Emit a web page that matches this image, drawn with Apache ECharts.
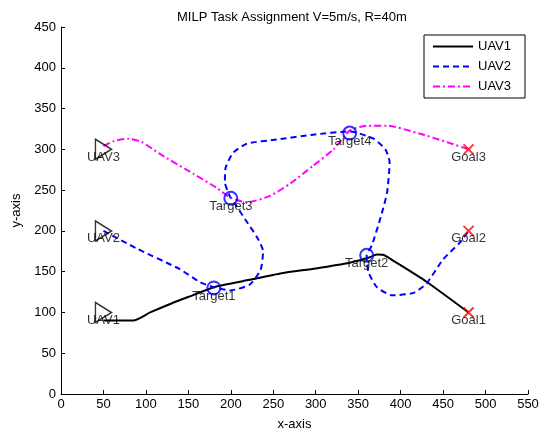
<!DOCTYPE html>
<html lang="en">
<head>
    <meta charset="UTF-8">
    <title>MILP Task Assignment</title>
    <script type="text/javascript" src="https://cdn.jsdelivr.net/npm/echarts@6/dist/echarts.min.js"></script>
    <style>
        html, body { margin: 0; padding: 0; background: #fff; }
    </style>
</head>
<body>
<div id="main" style="width: 547px;height:436px;"></div>

<script type="text/javascript">
    // start points, targets, goals
    var uavNames = ['UAV1', 'UAV2', 'UAV3'];
    var uavStart = [[50, 100], [50, 200], [50, 300]];
    var targetNames = ['Target1', 'Target2', 'Target3', 'Target4'];
    var targetPos = [[180, 130], [360, 170], [200, 240], [340, 320]];
    var goalNames = ['Goal1', 'Goal2', 'Goal3'];
    var goalPos = [[480, 100], [480, 200], [480, 300]];

    // flown paths
    var path1 = [[50, 90], [85, 90], [105, 100], [130, 111], [155, 121], [180, 131], [222, 140],
        [260, 148], [300, 154], [340, 161], [362, 167], [372, 171], [380, 170.5], [392, 163],
        [430, 138], [480, 100]];
    var path2 = [[50, 200], [90, 178], [140, 153], [164, 137], [180, 131], [199, 127], [222, 134],
        [235, 152], [238, 175], [231, 192], [217, 214], [205, 233], [199, 242], [193, 260],
        [194, 278], [203, 296], [219, 307], [254, 312], [297, 318], [340, 322], [368, 313],
        [382, 300], [387, 284], [384, 247], [376, 215], [366, 182], [360, 170], [362, 150],
        [372, 131], [390, 121], [415, 124], [430, 135], [450, 165], [470, 186], [480, 200]];
    var path3 = [[50, 304], [62, 310], [79, 313], [95, 309], [117, 294], [156, 270], [183, 253],
        [199, 241], [219, 235], [246, 243], [270, 258], [297, 280], [321, 300], [340, 323],
        [360, 329], [384, 329], [423, 319], [454, 309], [480, 300]];

    var xTicks = {min: 0, max: 550, interval: 50};
    var yTicks = {min: 0, max: 450, interval: 50};

    var font = 'Liberation Sans, Arial, Helvetica, sans-serif';

    function named(names, pts) {
        return pts.map(function (p, i) { return {name: names[i], value: p}; });
    }

    var markLabel = {
        show: true,
        position: 'inside',
        offset: [0, 8],
        formatter: '{b}',
        color: '#000',
        fontSize: 13,
        fontFamily: font
    };

    var chartDom = document.getElementById('main');
    var myChart = echarts.init(chartDom);

    var option = {
        animation: false,
        backgroundColor: '#fff',
        title: {
            text: 'MILP Task Assignment V=5m/s, R=40m',
            left: 172,
            top: 6,
            textStyle: {fontSize: 13, fontWeight: 'normal', color: '#000', fontFamily: font}
        },
        legend: {
            data: uavNames,
            orient: 'vertical',
            right: 22,
            top: 35,
            padding: [5, 14, 5, 8],
            itemWidth: 40,
            itemHeight: 12,
            itemGap: 7,
            borderColor: '#000',
            borderWidth: 1,
            backgroundColor: '#fff',
            // hide the marker dot, keep only the line sample
            itemStyle: {opacity: 0},
            textStyle: {fontSize: 13, color: '#000', fontFamily: font}
        },
        grid: {left: 61, right: 19, top: 27, bottom: 41},
        xAxis: {
            type: 'value',
            min: xTicks.min, max: xTicks.max, interval: xTicks.interval,
            name: 'x-axis',
            nameLocation: 'middle',
            nameGap: 24,
            nameTextStyle: {fontSize: 13, color: '#000', fontFamily: font},
            axisLine: {lineStyle: {color: '#000', width: 1}},
            axisTick: {inside: true, length: 4, lineStyle: {color: '#000'}},
            axisLabel: {color: '#000', fontSize: 13, fontFamily: font, margin: 4},
            splitLine: {show: false}
        },
        yAxis: {
            type: 'value',
            min: yTicks.min, max: yTicks.max, interval: yTicks.interval,
            name: 'y-axis',
            nameLocation: 'middle',
            nameGap: 33,
            nameRotate: 90,
            nameTextStyle: {fontSize: 13, color: '#000', fontFamily: font},
            axisLine: {show: true, lineStyle: {color: '#000', width: 1}},
            axisTick: {show: true, inside: true, length: 4, lineStyle: {color: '#000'}},
            axisLabel: {color: '#000', fontSize: 13, fontFamily: font, margin: 5},
            splitLine: {show: false}
        },
        series: [
            {
                name: 'UAV1',
                type: 'line',
                data: path1,
                showSymbol: false,
                symbol: 'none',
                smooth: 0.2,
                color: '#000',
                lineStyle: {color: '#000', width: 2, type: 'solid'},
                z: 2
            },
            {
                name: 'UAV2',
                type: 'line',
                data: path2,
                showSymbol: false,
                symbol: 'none',
                smooth: 0.2,
                color: '#0000ff',
                lineStyle: {color: '#0000ff', width: 2, type: [6, 4]},
                z: 2
            },
            {
                name: 'UAV3',
                type: 'line',
                data: path3,
                showSymbol: false,
                symbol: 'none',
                smooth: 0.2,
                color: '#ff00ff',
                lineStyle: {color: '#ff00ff', width: 2, type: [7, 3, 2, 3]},
                z: 2
            },
            {
                name: 'starts',
                type: 'scatter',
                data: named(uavNames, uavStart),
                symbol: 'path://M0,0L16,10L0,20Z',
                symbolSize: [16, 20],
                itemStyle: {color: 'none', borderColor: '#000', borderWidth: 1.5},
                label: markLabel,
                z: 3
            },
            {
                name: 'targets',
                type: 'scatter',
                data: named(targetNames, targetPos),
                symbol: 'circle',
                symbolSize: 13,
                itemStyle: {color: 'none', borderColor: '#0000ff', borderWidth: 2},
                label: markLabel,
                z: 3
            },
            {
                name: 'goals',
                type: 'scatter',
                data: named(goalNames, goalPos),
                symbol: 'path://M0,0L10,10M0,10L10,0',
                symbolSize: 10,
                itemStyle: {color: 'none', borderColor: '#ff0000', borderWidth: 2},
                label: markLabel,
                z: 3
            }
        ]
    };

    option && myChart.setOption(option);
</script>
</body>
</html>
